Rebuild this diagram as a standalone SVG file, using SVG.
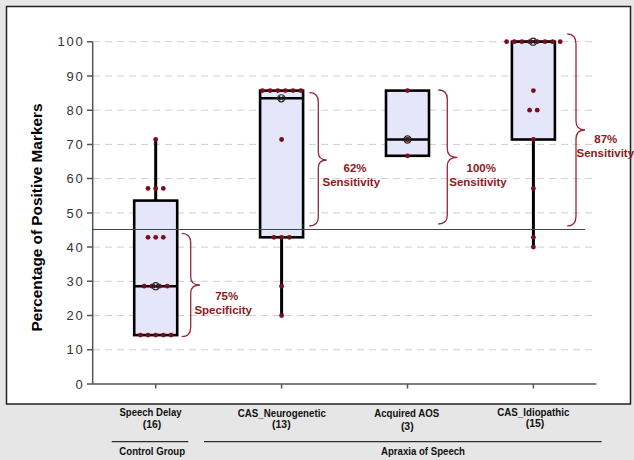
<svg xmlns="http://www.w3.org/2000/svg" width="634" height="460" viewBox="0 0 634 460">
<style>
.grid{stroke:#cfcfcf;stroke-width:1;stroke-dasharray:7 5;fill:none}
.axis{stroke:#555;stroke-width:1.5;fill:none}
.tick{font-family:"Liberation Sans",Arial,sans-serif;font-size:13px;fill:#333;letter-spacing:1.8px;text-anchor:end}
.box{fill:#e6e6fa;stroke:#000;stroke-width:2.6}
.med{stroke:#000;stroke-width:2.6}
.wh{stroke:#000;stroke-width:3}
.dot{fill:#7a0c1e}
.mk{fill:none;stroke:#222;stroke-width:1.1}
.brace{fill:none;stroke:#962838;stroke-width:1.3}
.pct{font-family:"Liberation Sans",Arial,sans-serif;font-size:11.5px;font-weight:bold;fill:#8b1a1a;text-anchor:middle}
.cat{font-family:"Liberation Sans",Arial,sans-serif;font-size:10.5px;font-weight:bold;fill:#111;text-anchor:middle}
</style>
<defs>
<g id="m"><circle r="3.6" class="mk"/><path d="M-2.2,-2.2L2.2,2.2M-2.2,2.2L2.2,-2.2" class="mk" stroke-width="0.9"/></g>
</defs>
<rect x="0" y="0" width="634" height="460" fill="#e6e6e6"/>
<rect x="6.5" y="6.5" width="624" height="397.5" fill="#fff" stroke="#222" stroke-width="1.5"/>

<g id="grid">
<line class="grid" x1="93" y1="349.8" x2="596" y2="349.8"/>
<line class="grid" x1="93" y1="315.5" x2="596" y2="315.5"/>
<line class="grid" x1="93" y1="281.3" x2="596" y2="281.3"/>
<line class="grid" x1="93" y1="247.1" x2="596" y2="247.1"/>
<line class="grid" x1="93" y1="212.9" x2="596" y2="212.9"/>
<line class="grid" x1="93" y1="178.6" x2="596" y2="178.6"/>
<line class="grid" x1="93" y1="144.4" x2="596" y2="144.4"/>
<line class="grid" x1="93" y1="110.2" x2="596" y2="110.2"/>
<line class="grid" x1="93" y1="76.0" x2="596" y2="76.0"/>
<line class="grid" x1="93" y1="41.7" x2="596" y2="41.7"/>
</g>

<g id="axes">
<path class="axis" d="M92.7,41.7V384H596.5"/>
<path class="axis" stroke-width="1.2" d="M87,384H92.7M87,349.8H92.7M87,315.5H92.7M87,281.3H92.7M87,247.1H92.7M87,212.9H92.7M87,178.6H92.7M87,144.4H92.7M87,110.2H92.7M87,76H92.7M87,41.7H92.7M155.7,384V388.5M281.6,384V388.5M407.5,384V388.5M533.4,384V388.5"/>
<text class="tick" x="84.5" y="388.6">0</text>
<text class="tick" x="84.5" y="354.4">10</text>
<text class="tick" x="84.5" y="320.1">20</text>
<text class="tick" x="84.5" y="285.9">30</text>
<text class="tick" x="84.5" y="251.7">40</text>
<text class="tick" x="84.5" y="217.5">50</text>
<text class="tick" x="84.5" y="183.2">60</text>
<text class="tick" x="84.5" y="149.0">70</text>
<text class="tick" x="84.5" y="114.8">80</text>
<text class="tick" x="84.5" y="80.6">90</text>
<text class="tick" x="84.5" y="46.3">100</text>
<text transform="translate(41.5,217.5) rotate(-90)" font-family="Liberation Sans,Arial,sans-serif" font-size="14.5" font-weight="bold" fill="#000" text-anchor="middle" textLength="228" lengthAdjust="spacingAndGlyphs">Percentage of Positive Markers</text>
</g>

<g id="speech-delay">
<line class="wh" x1="155.7" y1="200.6" x2="155.7" y2="139.5"/>
<rect class="box" x="134.2" y="200.6" width="43" height="134.5"/>
</g>
<g id="cas-neurogenetic">
<line class="wh" x1="281.6" y1="237.3" x2="281.6" y2="315.5"/>
<rect class="box" x="260.1" y="90.6" width="43" height="146.7"/>
</g>
<g id="acquired-aos">
<rect class="box" x="386" y="90.6" width="43" height="65.2"/>
</g>
<g id="cas-idiopathic">
<line class="wh" x1="533.4" y1="139.5" x2="533.4" y2="247.1"/>
<rect class="box" x="511.9" y="41.7" width="43" height="97.8"/>
</g>

<line id="threshold" x1="92.7" y1="229.5" x2="585" y2="229.5" stroke="#e00000" stroke-width="1.1"/>

<g id="medians">
<line class="med" x1="134.2" y1="286.2" x2="177.2" y2="286.2"/>
<line class="med" x1="260.1" y1="98.3" x2="303.1" y2="98.3"/>
<line class="med" x1="386" y1="139.5" x2="429" y2="139.5"/>
<line class="med" x1="511.9" y1="41.7" x2="554.9" y2="41.7"/>
</g>

<g id="dots">
<circle class="dot" cx="155.7" cy="139.5" r="2.4"/>
<circle class="dot" cx="148" cy="188.4" r="2.4"/><circle class="dot" cx="155.7" cy="188.4" r="2.4"/><circle class="dot" cx="163.3" cy="188.4" r="2.4"/>
<circle class="dot" cx="148" cy="237.3" r="2.4"/><circle class="dot" cx="155.7" cy="237.3" r="2.4"/><circle class="dot" cx="163.3" cy="237.3" r="2.4"/>
<circle class="dot" cx="144.2" cy="286.2" r="2.4"/><circle class="dot" cx="151.9" cy="286.2" r="2.4"/><circle class="dot" cx="159.5" cy="286.2" r="2.4"/><circle class="dot" cx="167.2" cy="286.2" r="2.4"/>
<circle class="dot" cx="140.4" cy="335.1" r="2.4"/><circle class="dot" cx="148" cy="335.1" r="2.4"/><circle class="dot" cx="155.7" cy="335.1" r="2.4"/><circle class="dot" cx="163.3" cy="335.1" r="2.4"/><circle class="dot" cx="171" cy="335.1" r="2.4"/>

<circle class="dot" cx="262.4" cy="90.6" r="2.4"/><circle class="dot" cx="270.1" cy="90.6" r="2.4"/><circle class="dot" cx="277.8" cy="90.6" r="2.4"/><circle class="dot" cx="285.4" cy="90.6" r="2.4"/><circle class="dot" cx="293.1" cy="90.6" r="2.4"/><circle class="dot" cx="300.8" cy="90.6" r="2.4"/>
<circle class="dot" cx="281.6" cy="139.5" r="2.4"/>
<circle class="dot" cx="273.9" cy="237.3" r="2.4"/><circle class="dot" cx="281.6" cy="237.3" r="2.4"/><circle class="dot" cx="289.3" cy="237.3" r="2.4"/>
<circle class="dot" cx="281.6" cy="286.2" r="2.4"/>
<circle class="dot" cx="281.6" cy="315.5" r="2.4"/>

<circle class="dot" cx="407.5" cy="90.6" r="2.4"/>
<circle class="dot" cx="407.5" cy="139.5" r="2.4"/>
<circle class="dot" cx="407.5" cy="155.8" r="2.4"/>

<circle class="dot" cx="506.6" cy="41.7" r="2.4"/><circle class="dot" cx="514.3" cy="41.7" r="2.4"/><circle class="dot" cx="521.9" cy="41.7" r="2.4"/><circle class="dot" cx="529.6" cy="41.7" r="2.4"/><circle class="dot" cx="537.2" cy="41.7" r="2.4"/><circle class="dot" cx="544.9" cy="41.7" r="2.4"/><circle class="dot" cx="552.6" cy="41.7" r="2.4"/><circle class="dot" cx="560.2" cy="41.7" r="2.4"/>
<circle class="dot" cx="533.4" cy="90.6" r="2.4"/>
<circle class="dot" cx="529.6" cy="110.2" r="2.4"/><circle class="dot" cx="537.2" cy="110.2" r="2.4"/>
<circle class="dot" cx="533.4" cy="139.5" r="2.4"/>
<circle class="dot" cx="533.4" cy="188.4" r="2.4"/>
<circle class="dot" cx="533.4" cy="237.3" r="2.4"/>
<circle class="dot" cx="533.4" cy="247.1" r="2.4"/>
</g>

<g id="median-markers">
<use href="#m" x="155.7" y="286.2"/>
<use href="#m" x="281.3" y="98.3"/>
<use href="#m" x="407.5" y="139.5"/>
<use href="#m" x="533.1" y="41.7"/>
</g>

<g id="connectors">
<path class="brace" d="M181.7,233.3Q190.7,233.3 190.7,243L190.7,277Q190.7,285 200,285Q190.7,285 190.7,293L190.7,327Q190.7,336.7 181.7,336.7"/>
<path class="brace" d="M309.3,92.7Q318.3,92.7 318.3,102L318.3,152Q318.3,160 326.7,160Q318.3,160 318.3,168L318.3,217Q318.3,226 309.3,226"/>
<path class="brace" d="M438.3,90Q447.3,90 447.3,99L447.3,149Q447.3,157.3 457.3,157.3Q447.3,157.3 447.3,166L447.3,215Q447.3,224 438.3,224"/>
<path class="brace" d="M567.3,34Q576,34 576,44L576,121Q576,130 585,130Q576,130 576,139L576,216Q576,226 567.3,226"/>
</g>

<g id="brace-labels">
<text class="pct" x="226.7" y="300">75%</text>
<text class="pct" x="223.2" y="314.3">Specificity</text>
<text class="pct" x="355" y="172.3">62%</text>
<text class="pct" x="351.3" y="185.6">Sensitivity</text>
<text class="pct" x="481.3" y="172.3">100%</text>
<text class="pct" x="478" y="185.6">Sensitivity</text>
<text class="pct" x="605.8" y="143.3">87%</text>
<text class="pct" x="605.3" y="156.7">Sensitivity</text>
</g>

<g id="category-labels">
<text class="cat" x="150.5" y="416" textLength="62" lengthAdjust="spacingAndGlyphs">Speech Delay</text>
<text class="cat" x="152" y="427.7">(16)</text>
<text class="cat" x="281.8" y="416.5" textLength="88" lengthAdjust="spacingAndGlyphs">CAS_Neurogenetic</text>
<text class="cat" x="281.3" y="427.7">(13)</text>
<text class="cat" x="406.7" y="417" textLength="65" lengthAdjust="spacingAndGlyphs">Acquired AOS</text>
<text class="cat" x="407.3" y="429.5">(3)</text>
<text class="cat" x="533.3" y="415.5" textLength="72" lengthAdjust="spacingAndGlyphs">CAS_Idiopathic</text>
<text class="cat" x="535" y="427.3">(15)</text>
</g>

<g id="group-labels">
<line x1="111.7" y1="441.7" x2="188.3" y2="441.7" stroke="#000" stroke-width="1"/>
<line x1="204" y1="441.7" x2="601.7" y2="441.7" stroke="#000" stroke-width="1"/>
<text class="cat" x="152.2" y="455" textLength="65.7" lengthAdjust="spacingAndGlyphs">Control Group</text>
<text class="cat" x="423" y="455" textLength="84" lengthAdjust="spacingAndGlyphs">Apraxia of Speech</text>
</g>
</svg>
